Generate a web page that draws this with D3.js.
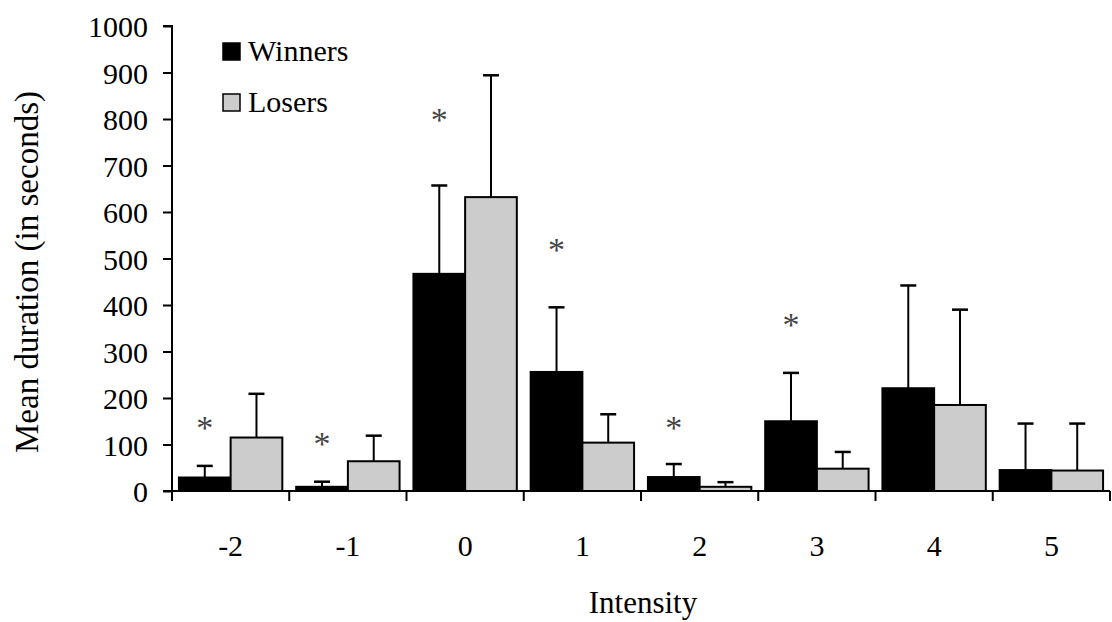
<!DOCTYPE html>
<html>
<head>
<meta charset="utf-8">
<script src="https://cdn.jsdelivr.net/npm/d3@7/dist/d3.min.js"></script>
<style>
  html, body { margin: 0; padding: 0; background: #fff; }
  svg { display: block; }
</style>
</head>
<body>
<svg id="chart" width="1112" height="622"></svg>
<script>
// ---- data ----
const categories = ["-2", "-1", "0", "1", "2", "3", "4", "5"];
const seriesNames = ["Winners", "Losers"];
const winners = [29, 9, 467, 256, 30, 150, 221, 45];
const winnersErr = [25, 11, 190, 139, 28, 104, 221, 100];
const losers = [115, 64, 632, 104, 9, 48, 185, 44];
const losersErr = [94, 55, 262, 61, 10, 36, 205, 101];
// significance markers: category and value height of the asterisk
const sigCategories = ["-2", "-1", "0", "1", "2", "3"];
const sigValues = [142, 107, 805, 525, 142, 364];
const yTicks = [0, 100, 200, 300, 400, 500, 600, 700, 800, 900, 1000];

const colors = { Winners: "#000000", Losers: "#cccccc" };

(function () {
const FONT = "'Liberation Serif', 'Times New Roman', Tinos, 'DejaVu Serif', serif";
const svg = d3.select("#chart");
const mLeft = 172, mRight = 1110, mTop = 26, mBottom = 491;

const x0 = d3.scaleBand().domain(categories).range([mLeft, mRight]).padding(0);
const x1 = d3.scaleBand().domain(seriesNames).range([0, x0.bandwidth()]).paddingInner(0).paddingOuter(0.134);
const y = d3.scaleLinear().domain([0, 1000]).range([mBottom, mTop]);

const rows = categories.map((c, i) => ({
  cat: c,
  vals: [
    { s: "Winners", v: winners[i], e: winnersErr[i] },
    { s: "Losers", v: losers[i], e: losersErr[i] }
  ]
}));

const g = svg.append("g");
rows.forEach(r => {
  r.vals.forEach(d => {
    const cx = x0(r.cat) + x1(d.s) + x1.bandwidth() / 2;
    g.append("line")
      .attr("x1", cx).attr("x2", cx)
      .attr("y1", y(d.v)).attr("y2", y(d.v + d.e))
      .attr("stroke", "#000").attr("stroke-width", 2);
    g.append("line")
      .attr("x1", cx - 8).attr("x2", cx + 8)
      .attr("y1", y(d.v + d.e)).attr("y2", y(d.v + d.e))
      .attr("stroke", "#000").attr("stroke-width", 2.5);
  });
});

rows.forEach(r => {
  g.selectAll(null).data(r.vals).enter().append("rect")
    .attr("x", d => x0(r.cat) + x1(d.s))
    .attr("y", d => y(d.v))
    .attr("width", x1.bandwidth())
    .attr("height", d => y(0) - y(d.v))
    .attr("fill", d => colors[d.s])
    .attr("stroke", "#000")
    .attr("stroke-width", 2);
});

svg.selectAll(".sig").data(sigCategories).enter().append("text")
  .attr("class", "sig")
  .attr("x", (c) => x0(c) + x1("Winners") + x1.bandwidth() / 2)
  .attr("y", (c, i) => y(sigValues[i]) + 14)
  .attr("text-anchor", "middle")
  .style("font-family", FONT)
  .style("font-size", "34px")
  .attr("fill", "#444")
  .text("*");

const yAxis = d3.axisLeft(y).tickValues(yTicks).tickSize(9).tickPadding(15).tickFormat(d3.format("d"));
const ya = svg.append("g").attr("transform", `translate(${mLeft},0)`).call(yAxis);
ya.select(".domain").attr("stroke-width", 2).attr("d", `M-9,${mTop}H0V${mBottom}H-9`);
ya.selectAll(".tick line").attr("stroke-width", 2);
ya.selectAll(".tick text").style("font-size", "30px").style("font-family", FONT).attr("dy", "0.36em").attr("fill", "#000");

const xa = svg.append("g").attr("transform", `translate(0,${mBottom})`);
xa.append("line").attr("x1", mLeft).attr("x2", mRight).attr("y1", 0).attr("y2", 0)
  .attr("stroke", "#000").attr("stroke-width", 2);
const boundaries = categories.map(c => x0(c)).concat([mRight]);
xa.selectAll(".xt").data(boundaries).enter().append("line")
  .attr("x1", d => d).attr("x2", d => d).attr("y1", 0).attr("y2", 10)
  .attr("stroke", "#000").attr("stroke-width", 2);
xa.selectAll(".xl").data(categories).enter().append("text")
  .attr("x", c => x0(c) + x0.bandwidth() / 2)
  .attr("y", 65)
  .attr("text-anchor", "middle")
  .style("font-size", "30px").style("font-family", FONT)
  .text(c => c);

svg.append("text")
  .attr("x", 643).attr("y", 613)
  .attr("text-anchor", "middle")
  .style("font-size", "31px").style("font-family", FONT)
  .text("Intensity");
svg.append("text")
  .attr("transform", "translate(38,272) rotate(-90)")
  .attr("text-anchor", "middle")
  .style("font-size", "33px").style("font-family", FONT)
  .text("Mean duration (in seconds)");

const legend = svg.append("g");
seriesNames.forEach((s, i) => {
  const ly = 51 + i * 51;
  legend.append("rect")
    .attr("x", 223).attr("y", ly - 8).attr("width", 17).attr("height", 17)
    .attr("fill", colors[s]).attr("stroke", "#000").attr("stroke-width", 1.5);
  legend.append("text")
    .attr("x", 248).attr("y", ly + 10)
    .style("font-size", "30px").style("font-family", FONT)
    .text(s);
});
})();
</script>
</body>
</html>
